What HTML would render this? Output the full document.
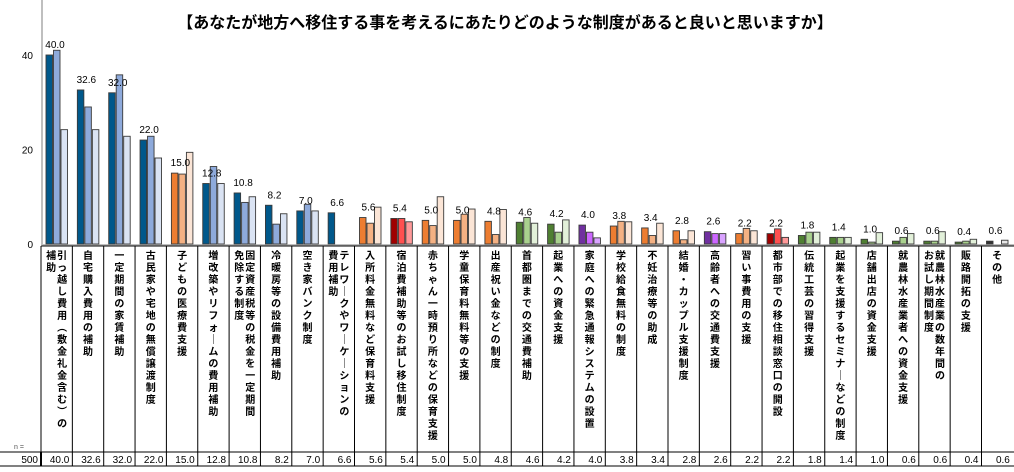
<!DOCTYPE html>
<html><head><meta charset="utf-8">
<style>
body{margin:0;background:#fff;width:1014px;height:467px;overflow:hidden;font-family:"Liberation Sans","Noto Sans CJK JP",sans-serif;}
svg text{font-family:"Liberation Sans","Noto Sans CJK JP",sans-serif;}
</style></head>
<body>
<svg id="chart" width="1014" height="467" viewBox="0 0 1014 467" xmlns="http://www.w3.org/2000/svg">
<text x="505" y="28" text-anchor="middle" font-size="16" font-weight="bold" fill="#000">【あなたが地方へ移住する事を考えるにあたりどのような制度があると良いと思いますか】</text>
<g id="axis"></g>
<g id="bars"></g>
<g id="table"></g>
</svg>
<script>
const categories=["引っ越し費用（敷金礼金含む）の補助","自宅購入費用の補助","一定期間の家賃補助","古民家や宅地の無償譲渡制度","子どもの医療費支援","増改築やリフォームの費用補助","固定資産税等の税金を一定期間免除する制度","冷暖房等の設備費用補助","空き家バンク制度","テレワークやワーケーションの費用補助","入所料金無料など保育料支援","宿泊費補助等のお試し移住制度","赤ちゃん一時預り所などの保育支援","学童保育料無料等の支援","出産祝い金などの制度","首都圏までの交通費補助","起業への資金支援","家庭への緊急通報システムの設置","学校給食無料の制度","不妊治療等の助成","結婚・カップル支援制度","高齢者への交通費支援","習い事費用の支援","都市部での移住相談窓口の開設","伝統工芸の習得支援","起業を支援するセミナーなどの制度","店舗出店の資金支援","就農林水産業者への資金支援","就農林水産業の数年間のお試し期間制度","販路開拓の支援","その他"];
const labelCols=[["引っ越し費用（敷金礼金含む）の","補助"],null,null,null,null,null,["固定資産税等の税金を一定期間","免除する制度"],null,null,["テレワークやワーケーションの","費用補助"],null,null,null,null,null,null,null,null,null,null,null,null,null,null,null,null,null,null,["就農林水産業の数年間の","お試し期間制度"],null,null];
const seriesA=[40.0,32.6,32.0,22.0,15.0,12.8,10.8,8.2,7.0,6.6,5.6,5.4,5.0,5.0,4.8,4.6,4.2,4.0,3.8,3.4,2.8,2.6,2.2,2.2,1.8,1.4,1.0,0.6,0.6,0.4,0.6];
const seriesB=[41.0,29.0,35.8,22.8,14.8,16.4,8.8,4.2,8.4,0,4.4,5.4,3.9,6.3,2.0,5.6,2.5,2.5,4.8,1.8,0.9,2.2,3.3,3.2,2.5,1.4,0.4,1.4,0.6,0.6,0.0];
const seriesC=[24.2,24.2,22.8,18.2,19.4,12.8,10.0,6.4,7.0,0,7.8,4.7,10.0,7.4,7.3,4.4,5.1,1.3,4.7,4.4,2.8,2.2,2.8,1.4,2.5,1.4,2.4,2.2,2.6,1.0,0.8];
const showB=[1,1,1,1,1,1,1,1,1,0,1,1,1,1,1,1,1,1,1,1,1,1,1,1,1,1,1,1,1,1,1];
const colorGroup=["b","b","b","b","o","b","b","b","b","b","o","r","o","o","o","g","g","p","o","o","o","p","o","r","g","g","g","g","g","g","k"];
const yTicks=[0,20,40];
const totalN="500";

const palette={b:["#00588b","#8eaadb","#dae3f3"],o:["#ed7d31","#f4b183","#fbe5d6"],r:["#a00000","#ff5050","#ff9999"],g:["#4f7f32","#a9d18e","#e2f0d9"],p:["#7030a0","#cc66ff","#d9a3ff"],k:["#333333","#777777","#e8e8e8"]};
const NS="http://www.w3.org/2000/svg";
const x0=41,colW=31.35,baseY=244,unit=4.725;
function yS(v){return baseY-v*unit;}
function xCol(i){return x0+i*colW;}
function mk(tag,attrs,parent){const e=document.createElementNS(NS,tag);for(const k in attrs)e.setAttribute(k,attrs[k]);parent.appendChild(e);return e;}
const axis=document.getElementById('axis'),bars=document.getElementById('bars'),table=document.getElementById('table');
let ln=mk('line',{x1:42,y1:0,x2:42,y2:baseY+1,stroke:'#bfbfbf','stroke-width':2},axis);


yTicks.forEach(t=>{
  const tx=mk('text',{x:33,y:yS(t)+4,'text-anchor':'end','font-size':10,fill:'#000'},axis);
  tx.textContent=t;
  
  
});
let bl=mk('line',{x1:42,y1:baseY+1,x2:1014,y2:baseY+1,stroke:'#bfbfbf','stroke-width':2},axis);


const series=[seriesA,seriesB,seriesC];
categories.forEach((c,i)=>{
  const cx=xCol(i);
  const pal=palette[colorGroup[i]];
  for(let s=0;s<3;s++){
    if(s>0&&!showB[i])continue;
    const v=series[s][i];
    if(v<=0)continue;
    const r=mk('rect',{x:cx+5+s*7.5,y:yS(v),width:6.5,height:baseY-yS(v),fill:pal[s],stroke:'#3a3a3a','stroke-width':0.9},bars);
    
    
  }
  const vl=mk('text',{x:cx+14,y:yS(seriesA[i])-7,'text-anchor':'middle','font-size':10,fill:'#000'},bars);
  vl.textContent=seriesA[i].toFixed(1);
  
  
  const cols=labelCols[i]||[c];
  const lineW=11;
  const startX=cx+colW/2+(cols.length-1)*lineW/2;
  cols.forEach((str,k)=>{
    const lx=startX-k*lineW;
    [...str].forEach((ch,j)=>{
      let t=ch;
      if(ch==='（')t='︵';else if(ch==='）')t='︶';else if(ch==='ー')t='｜';
      const ct=mk('text',{x:lx,y:259+j*12,'text-anchor':'middle','font-size':10,'font-weight':'bold',fill:'#000'},table);
      ct.textContent=t;
      
      
    });
  });
  const sep=mk('line',{x1:cx,y1:246,x2:cx,y2:466,stroke:'#000','stroke-width':1},table);
  
  
  const nv=mk('text',{x:cx+colW-3,y:463,'text-anchor':'end','font-size':10,fill:'#000'},table);
  nv.textContent=seriesA[i].toFixed(1);
  
  
});
let tl=mk('line',{x1:41,y1:246,x2:1014,y2:246,stroke:'#000','stroke-width':1},table);


let ml=mk('line',{x1:0,y1:452,x2:1014,y2:452,stroke:'#000','stroke-width':1},table);


let bb=mk('line',{x1:0,y1:466,x2:1014,y2:466,stroke:'#000','stroke-width':1},table);


let thick=mk('line',{x1:41,y1:452,x2:41,y2:466,stroke:'#000','stroke-width':2},table);


let nl=mk('text',{x:14,y:449,'font-size':7,fill:'#555'},table);
nl.textContent='n =';


let nt=mk('text',{x:38,y:463,'text-anchor':'end','font-size':10,fill:'#000'},table);
nt.textContent=totalN;


</script>
</body></html>
